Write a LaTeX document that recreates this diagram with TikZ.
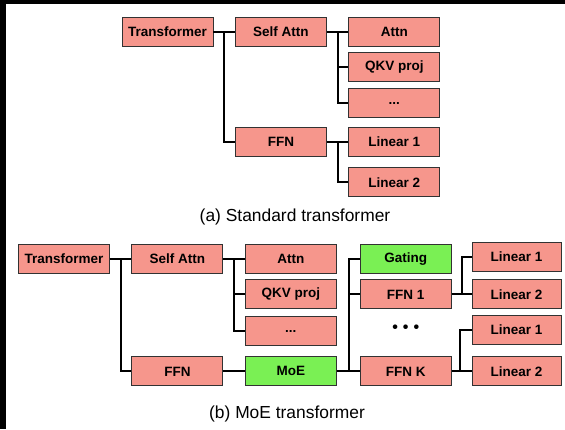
\documentclass[tikz,border=0pt]{standalone}
\usepackage{fontspec}
\setmainfont{Liberation Sans}
\usepackage{tikz}
\usetikzlibrary{positioning,calc}
\definecolor{salmon}{RGB}{246,150,140}
\definecolor{gate}{RGB}{122,240,84}
\definecolor{edge}{RGB}{50,50,50}
\tikzset{blk/.style={draw=edge,line width=0.9pt,fill=salmon,minimum width=91pt,minimum height=29pt,inner sep=0pt,font=\bfseries\fontsize{13.5}{15}\selectfont},lin/.style={blk,minimum width=89pt},moe/.style={blk,fill=gate},link/.style={line width=2pt,draw=black},subcap/.style={anchor=base,font=\fontsize{17.4}{20}\selectfont}}

\begin{document}
\begin{tikzpicture}[x=1pt,y=-1pt]
\useasboundingbox (0,0) rectangle (565,429);
\fill[black] (0,0) rectangle (565,4);
\fill[black] (0,0) rectangle (6,429);
% (a) standard
\node[blk] (tf) at (167.5,32) {Transformer};
\node[blk,right=21.5pt of tf] (sa) {Self Attn};
\node[blk,right=21.5pt of sa] (at) {Attn};
\node[blk,below=5pt of at] (qkv) {QKV proj};
\node[blk,below=6.5pt of qkv] (etc) {...};
\node[blk,below=80pt of sa] (ffn) {FFN};
\node[blk,right=21.5pt of ffn] (la) {Linear 1};
\node[blk,below=10.5pt of la] (lb) {Linear 2};
\node[subcap] (capa) at (295,221) {(a) Standard transformer};
\coordinate (tfj) at ($(tf.east)!0.5!(sa.west)$);
\coordinate (saj) at ($(sa.east)!0.5!(at.west)$);
\coordinate (ffj) at ($(ffn.east)!0.5!(la.west)$);
\draw[link] (tf.east) -- (sa.west) (tfj) |- (ffn.west);
\draw[link] (sa.east) -- (at.west) (saj) |- (etc.west) (saj |- qkv.west) -- (qkv.west);
\draw[link] (ffn.east) -- (la.west) (ffj) |- (lb.west);
% (b) moe
\node[blk] (mtf) at (64,259) {Transformer};
\node[blk,right=21.5pt of mtf] (msa) {Self Attn};
\node[blk,right=21.5pt of msa] (mat) {Attn};
\node[blk,below=5.5pt of mat] (mqkv) {QKV proj};
\node[blk,below=7pt of mqkv] (metc) {...};
\node[blk,below=82.5pt of msa] (mffn) {FFN};
\node[moe,right=21.5pt of mffn] (moe) {MoE};
\node[moe,right=23pt of mat] (gt) {Gating};
\node[blk,below=5.5pt of gt] (fa) {FFN 1};
\node[blk,right=23pt of moe] (fk) {FFN K};
\node[font=\bfseries\fontsize{16}{16}\selectfont] (more) at ($(fa)!0.45!(fk)$) {•\hspace{5pt}•\hspace{5pt}•};
\node[lin,right=20pt of fa] (fa2) {Linear 2};
\node[lin,above=8pt of fa2] (fa1) {Linear 1};
\node[lin,right=20pt of fk] (fk2) {Linear 2};
\node[lin,above=12pt of fk2] (fk1) {Linear 1};
\node[subcap] (capb) at (287,418) {(b) MoE transformer};
\coordinate (mtfj) at ($(mtf.east)!0.5!(msa.west)$);
\coordinate (msaj) at ($(msa.east)!0.5!(mat.west)$);
\coordinate (moej) at ($(moe.east)!0.55!(fk.west)$);
\coordinate (faj) at ($(fa.east)!0.5!(fa2.west)$);
\coordinate (fkj) at ($(fk.east)!0.4!(fk2.west)$);
\draw[link] (mtf.east) -- (msa.west) (mtfj) |- (mffn.west);
\draw[link] (msa.east) -- (mat.west) (msaj) |- (metc.west) (msaj |- mqkv.west) -- (mqkv.west);
\draw[link] (mffn.east) -- (moe.west);
\draw[link] (moe.east) -- (fk.west) (moej) |- (gt.west) (moej |- fa.west) -- (fa.west);
\draw[link] (fa.east) -- (fa2.west) (faj) |- (fa1.west);
\draw[link] (fk.east) -- (fk2.west) (fkj) |- (fk1.west);
\end{tikzpicture}
\end{document}
